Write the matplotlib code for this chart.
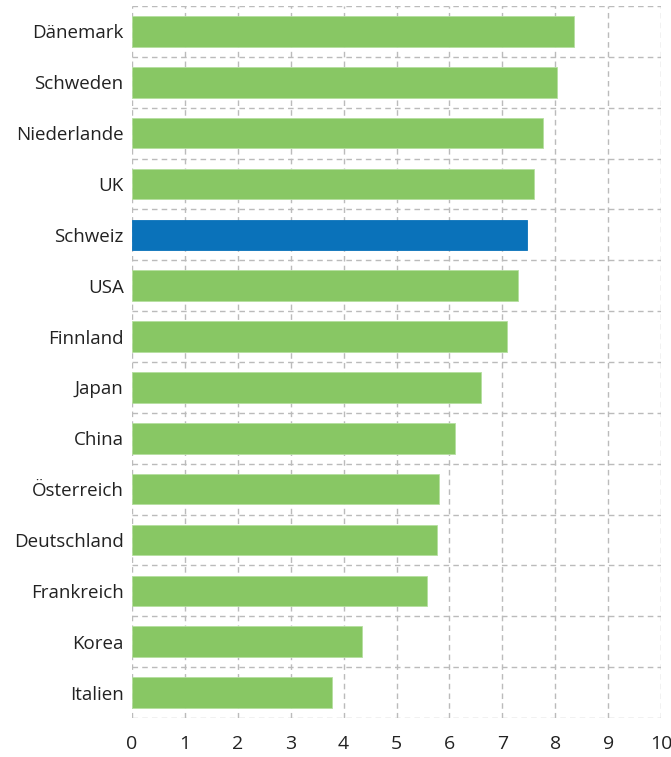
import matplotlib.pyplot as plt
import numpy as np

# data
countries = ['Dänemark', 'Schweden', 'Niederlande', 'UK', 'Schweiz', 'USA', 'Finnland',
             'Japan', 'China', 'Österreich', 'Deutschland', 'Frankreich', 'Korea', 'Italien']
values = [8.36, 8.03, 7.77, 7.6, 7.46, 7.3, 7.08,
          6.6, 6.11, 5.81, 5.77, 5.57, 4.34, 3.79]
highlight = 'Schweiz'
xticks = list(range(0, 11))

plt.rcParams['font.family'] = ['Open Sans', 'DejaVu Sans']

fig = plt.figure(figsize=(6.71, 7.57), dpi=100)
ax = fig.add_axes([132/671, 1-718/757, (661-132)/671, (718-6)/757])

green = '#88c764'
blue = '#0a72ba'
colors = [blue if c == highlight else green for c in countries]
y = np.arange(len(countries))
ax.barh(y, values, height=0.6, color=colors, edgecolor='#b5dfa0', linewidth=0.6, zorder=3)
# redraw edge for the blue bar in its own colour
for i, c in enumerate(countries):
    if c == highlight:
        ax.patches[i].set_edgecolor(blue)

ax.set_xlim(0, 10)
ax.set_ylim(len(countries)-0.5, -0.5)
ax.set_xticks(xticks)
ax.set_yticks(y)
ax.set_yticklabels(countries)
ax.set_yticks(np.arange(-0.5, len(countries)), minor=True)

for s in ax.spines.values():
    s.set_visible(False)
ax.grid(axis='x', which='major', color='#bbbbbb', linestyle=(0, (4, 3)), linewidth=1, zorder=0)
ax.grid(axis='y', which='minor', color='#bbbbbb', linestyle=(0, (4, 3)), linewidth=1, zorder=0)
ax.grid(axis='y', which='major', visible=False)
ax.tick_params(which='both', length=0)
ax.tick_params(axis='y', labelsize=13.5, pad=6, colors='#222222')
ax.tick_params(axis='x', labelsize=14, pad=12, colors='#222222')

plt.savefig('out.png', dpi=100)
